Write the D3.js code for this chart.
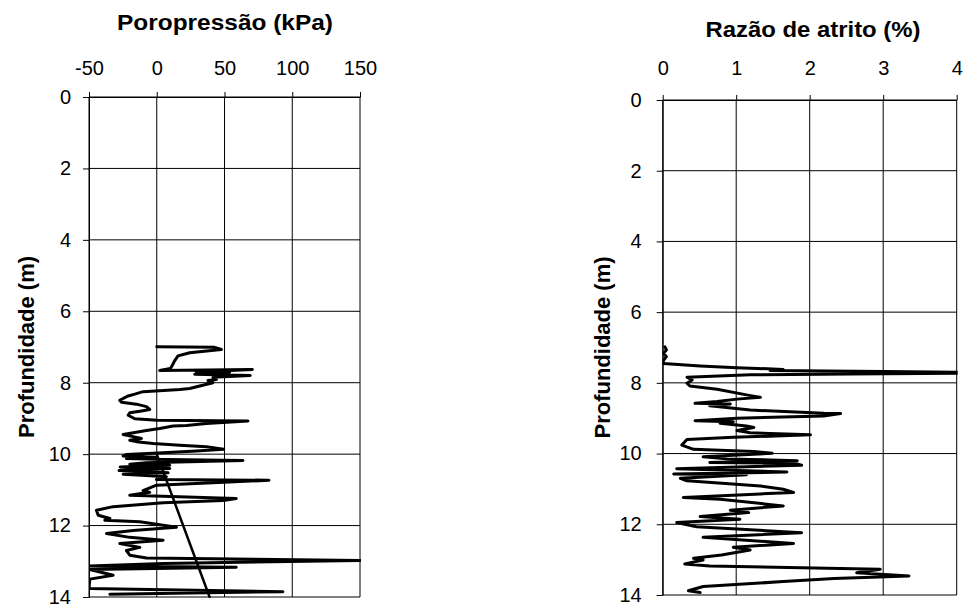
<!DOCTYPE html>
<html><head><meta charset="utf-8">
<script src="https://cdn.jsdelivr.net/npm/d3@7"></script>
<style>body{margin:0;background:#fff} text{font-family:"Liberation Sans",Arial,sans-serif}</style>
</head><body><svg id="c" width="968" height="606"></svg>
<script>
const poroDepth = [6.99,7.01,7.07,7.16,7.25,7.38,7.51,7.60,7.66,7.63,7.70,7.71,7.76,7.80,7.85,7.91,7.94,8.00,8.09,8.16,8.19,8.25,8.32,8.37,8.49,8.55,8.60,8.67,8.75,8.79,8.84,8.91,9.01,9.05,9.07,9.14,9.20,9.21,9.28,9.34,9.45,9.51,9.56,9.61,9.65,9.70,9.75,9.79,9.86,9.91,9.96,10.01,10.05,10.09,10.12,10.15,10.18,10.24,10.28,10.31,10.36,10.40,10.46,10.52,10.56,10.59,10.63,10.71,10.73,10.80,10.87,11.02,11.07,11.15,11.24,11.30,11.36,11.47,11.57,11.71,11.80,11.85,11.89,12.05,12.14,12.22,12.33,12.41,12.50,12.61,12.70,12.83,12.91,12.98,13.06,13.13,13.17,13.23,13.39,13.50,13.76,13.85,13.92];
const poroValue = [0,42.8,47.7,24.3,15.7,13.3,11.5,10.1,2.2,70.5,29.2,53.8,28.0,69.0,41.5,44.0,37.8,41.5,31.7,24.3,17.0,-10.1,-16.2,-21.1,-27.3,-26.0,-15.0,-7.6,-5.2,-11.3,-19.9,-21.1,-16.2,0.2,67.3,36.6,21.9,12.0,2.2,-7.6,-24.8,-17.4,-11.3,-19.9,-15.0,-2.7,17.0,36.6,49.4,29.2,4.7,-22.4,-24.8,-0.2,-22.4,7.1,63.6,-7.6,-19.9,9.6,-27.0,9.6,-27.8,8.4,-24.8,-11.3,7.1,-0.2,82.8,41.5,-0.2,-10.1,-5.2,-19.9,58.7,48.9,4.7,-32.2,-44.5,-43.2,-34.6,-38.3,-12.5,14.5,-17.4,-37.1,-19.9,4.7,-27.3,-12.5,-22.4,-19.9,-7.6,150,4.7,-49.4,58.7,-49.4,-32.2,-49.4,-50,93.1,-34.6];
const hydroDepth = [10, 14];
const hydroValue = [0, 39];
const atritoDepth = [6.98,7.07,7.16,7.26,7.37,7.45,7.52,7.57,7.62,7.65,7.68,7.70,7.73,7.75,7.77,7.84,7.92,8.01,8.09,8.18,8.34,8.41,8.46,8.53,8.58,8.60,8.65,8.77,8.86,8.87,8.94,9.00,9.07,9.10,9.14,9.22,9.26,9.35,9.41,9.47,9.54,9.60,9.76,9.88,9.94,9.99,10.09,10.15,10.20,10.25,10.28,10.33,10.43,10.52,10.58,10.60,10.70,10.77,10.92,11.01,11.10,11.14,11.24,11.29,11.48,11.60,11.67,11.78,11.86,11.95,12.07,12.24,12.37,12.54,12.65,12.73,12.87,12.96,13.01,13.12,13.18,13.27,13.37,13.46,13.53,13.62,13.76,13.88,13.93];
const atritoValue = [0.03,0.05,0.01,0.05,0.01,0.01,0.51,1.01,1.64,1.46,3.01,4.05,4.05,2.55,1.19,0.33,0.40,0.33,0.37,0.74,1.14,1.33,1.01,0.74,0.44,0.92,0.64,1.19,2.19,2.42,2.19,1.01,0.44,0.96,0.78,1.14,1.24,1.01,1.19,2.01,0.96,0.33,0.26,0.42,1.24,1.49,0.55,0.87,1.83,0.64,1.80,1.89,0.19,1.69,0.15,1.14,0.24,0.33,1.33,1.64,1.78,1.33,0.28,0.78,1.64,0.92,1.17,0.51,1.05,0.19,0.46,1.89,0.55,1.78,0.96,1.19,0.80,0.42,0.55,0.30,0.64,2.96,2.64,3.35,2.33,1.64,0.55,0.35,0.51];
const poroTicks = [-50,0,50,100,150];
const atritoTicks = [0,1,2,3,4];
const depthTicks = [0,2,4,6,8,10,12,14];
const titles = ["Poropressão (kPa)", "Razão de atrito (%)"];
const yTitle = "Profundidade (m)";

const svg = d3.select("#c");

function panel(cfg){
  const x = d3.scaleLinear().domain([cfg.ticks[0], cfg.ticks[cfg.ticks.length-1]]).range([cfg.x0, cfg.x1]);
  const y = d3.scaleLinear().domain([0,14]).range([cfg.y0, cfg.y1]);
  const g = svg.append("g");
  // grid
  g.selectAll(".gv").data(cfg.ticks).enter().append("line")
    .attr("x1", d=>x(d)).attr("x2", d=>x(d)).attr("y1", cfg.y0).attr("y2", cfg.y1)
    .attr("stroke","#000").attr("stroke-width",1);
  g.selectAll(".gh").data(depthTicks).enter().append("line")
    .attr("x1", cfg.x0).attr("x2", cfg.x1).attr("y1", d=>y(d)).attr("y2", d=>y(d))
    .attr("stroke","#000").attr("stroke-width",1);
  // axes
  const fmt = d => String(d);
  const ax = g.append("g").attr("transform",`translate(0,${cfg.y0})`)
    .call(d3.axisTop(x).tickValues(cfg.ticks).tickSizeInner(5).tickSizeOuter(0).tickPadding(cfg.tpx).tickFormat(fmt));
  const ay = g.append("g").attr("transform",`translate(${cfg.x0},0)`)
    .call(d3.axisLeft(y).tickValues(depthTicks).tickSizeInner(6).tickSizeOuter(0).tickPadding(cfg.tpy).tickFormat(fmt));
  [ax, ay].forEach(a=>{
    a.selectAll("text").attr("font-size",20).attr("fill","#000").style("font-family","'Liberation Sans',Arial,sans-serif");
    a.selectAll("line,path").attr("stroke","#000");
  });
  ax.selectAll("text").attr("dy", "0");
  // clip
  const cid = "clip"+cfg.id;
  svg.append("clipPath").attr("id",cid).append("rect")
    .attr("x",cfg.x0).attr("y",cfg.y0-2).attr("width",cfg.x1-cfg.x0+1).attr("height",cfg.y1-cfg.y0+3);
  const line = d3.line().x(d=>x(d[1])).y(d=>y(d[0]));
  cfg.series.forEach(s=>{
    g.append("path").attr("clip-path",`url(#${cid})`)
      .datum(d3.zip(s.depth, s.value))
      .attr("d", line).attr("fill","none").attr("stroke","#000")
      .attr("stroke-width", s.w).attr("stroke-linejoin","round").attr("stroke-linecap","round");
  });
  // title
  g.append("text").attr("x", cfg.tx).attr("y", cfg.ty).attr("text-anchor","middle")
    .attr("font-size",22).attr("font-weight","bold").attr("textLength",cfg.tl).attr("lengthAdjust","spacingAndGlyphs")
    .text(cfg.title);
  g.append("text").attr("transform",`translate(${cfg.yx},${(cfg.y0+cfg.y1)/2}) rotate(-90)`)
    .attr("text-anchor","middle").attr("dy","0.35em")
    .attr("font-size",22).attr("font-weight","bold").text(yTitle);
}

panel({id:1, x0:89, x1:360, y0:97, y1:597, ticks:poroTicks, tpx:17, tpy:12,
  title:titles[0], tx:225, ty:30, tl:216, yx:26,
  series:[{depth:poroDepth, value:poroValue, w:3},{depth:hydroDepth, value:hydroValue, w:2.5}]});
panel({id:2, x0:662.7, x1:956.7, y0:100, y1:595, ticks:atritoTicks, tpx:20, tpy:15,
  title:titles[1], tx:813, ty:37, tl:215, yx:602,
  series:[{depth:atritoDepth, value:atritoValue, w:3}]});
</script></body></html>
